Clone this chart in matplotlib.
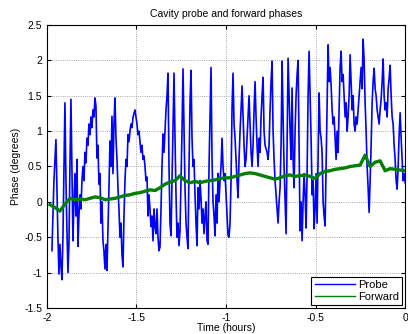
import matplotlib
matplotlib.use("Agg")
import matplotlib.pyplot as plt
import numpy as np

plt.rcParams['font.family'] = ['Liberation Sans', 'DejaVu Sans']
plt.rcParams['axes.unicode_minus'] = False

# probe phase (degrees), sampled evenly from t = -1.972 h to 0 h
probe = [
    -0.69, -0.2, 0.3, 0.6, 0.88, 0.2, -0.5, -1.02, -0.6, -0.9,
    -1.10, -0.5, 0.5, 1.40, 0.3, -0.4, -1.0, -0.6, 0.5, 1.45,
    0.4, -0.55, 0.0, 0.4, -0.2, 0.6, -0.63, -0.2, 0.1, -0.1,
    0.3, 0.5, 0.3, 0.7, 0.55, 0.9, 0.8, 1.1, 0.95, 1.2,
    1.05, 1.3, 1.2, 1.47, 1.35, 0.62, 0.8, 0.25, 0.4, -0.3,
    0.0, -0.55, -0.7, -0.95, -0.6, -0.97, -0.4, 0.2, 0.86, 0.5,
    1.21, 0.4, 1.1, 1.47, 0.9, 0.6, 0.2, -0.1, -0.5, -0.3,
    -0.75, -0.92, -0.2, 0.3, 0.6, 0.5, 0.95, 0.85, 1.0, 1.1,
    1.05, 1.19, 1.25, 1.30, 1.2, 1.1, 0.95, 1.0, 0.85, 0.7,
    0.8, 0.6, 0.65, 0.5, 0.3, 0.35, -0.2, 0.1, -0.1, -0.35,
    -0.2, -0.55, -0.1, -0.35, -0.45, -0.1, -0.5, -0.69, -0.64, -0.1,
    0.5, 0.96, 0.7, 1.0, 1.3, 1.5, 1.82, 0.5, -0.3, -0.48,
    0.3, 1.0, 1.82, 0.9, 0.1, -0.5, -0.3, -0.62, -0.4, 0.3,
    1.0, 1.88, 1.0, 0.2, -0.3, -0.5, -0.66, 0.5, 1.4, 1.86,
    0.9, 0.5, 0.6, 0.1, -0.3, -0.62, 0.2, -0.1, 0.3, 0.04,
    -0.3, -0.1, -0.45, -0.2, 0.0, -0.55, -0.6, 0.5, 1.2, 1.9,
    0.6, 0.0, -0.2, -0.48, 0.1, -0.3, 0.4, 0.0, 0.3, 0.5,
    0.9, 0.5, 0.3, 0.4, 0.1, -0.2, -0.48, -0.5, -0.3, 0.3,
    1.33, 1.82, 1.1, 0.9, 0.6, 0.3, 0.06, 0.6, 1.0, 1.3,
    1.64, 1.2, 0.8, 0.5, 0.6, 0.9, 1.2, 1.5, 1.1, 0.7,
    0.5, 0.8, 1.3, 1.70, 1.2, 0.8, 0.5, 0.9, 0.7, 1.2,
    1.5, 1.76, 1.0, 0.8, 0.75, 0.7, 0.6, 0.8, 1.3, 1.7,
    1.99, 1.0, 0.6, 0.3, 0.1, -0.1, -0.3, 0.0, 0.2, 0.8,
    1.99, 1.2, 0.5, 0.0, -0.45, 0.8, 2.03, 1.5, 1.0, 0.6,
    1.61, 0.6, 0.2, 1.0, 1.5, 1.8, 2.0, 0.8, -0.41, 0.0,
    -0.55, 0.0, 0.4, 0.1, -0.37, 0.4, 1.5, 2.13, 1.5, 0.9,
    0.1, 0.3, -0.38, -0.1, 0.4, -0.3, 0.6, 1.54, 1.0, 0.9,
    0.7, 0.0, -0.2, -0.34, 0.5, 1.3, 2.22, 1.7, 1.9, 1.65,
    1.3, 1.1, 1.2, 0.9, 0.6, 1.0, 0.7, 1.3, 1.9, 2.13,
    1.7, 1.8, 1.5, 1.2, 1.4, 1.0, 1.2, 1.5, 2.08, 1.7,
    1.3, 1.5, 1.1, 1.0, 1.2, 1.1, 1.3, 1.5, 1.7, 1.9,
    1.6, 2.3, 2.0, 1.4, 1.0, 0.5, 0.2, -0.15, 0.3, 0.8,
    1.4, 1.7, 1.89, 1.6, 1.5, 1.3, 1.2, 1.1, 1.3, 1.45,
    1.7, 2.02, 1.5, 1.3, 1.4, 1.2, 1.6, 1.75, 1.93, 1.5,
    1.2, 1.1, 0.8, 0.6, 0.3, 0.18, 0.5, 0.95, 1.26, 0.9,
    0.6, 0.3, 0.4, 0.27,
]

# forward phase (degrees), sampled evenly from t = -1.983 h to 0 h
forward = [
    -0.04, -0.08, -0.13, -0.03, 0.05, 0.03, 0.04, 0.03, 0.05, 0.07,
    0.06, 0.03, 0.04, 0.05, 0.07, 0.09, 0.10, 0.12, 0.13, 0.15,
    0.17, 0.16, 0.20, 0.25, 0.28, 0.30, 0.37, 0.30, 0.27, 0.29,
    0.27, 0.29, 0.30, 0.31, 0.33, 0.34, 0.34, 0.36, 0.38, 0.40,
    0.41, 0.40, 0.38, 0.36, 0.34, 0.32, 0.34, 0.37, 0.38, 0.36,
    0.37, 0.38, 0.36, 0.33, 0.40, 0.43, 0.44, 0.46, 0.47, 0.48,
    0.50, 0.51, 0.52, 0.66, 0.50, 0.56, 0.58, 0.44, 0.47, 0.46,
    0.45, 0.44,
]

t_probe = np.linspace(-1.972, 0, len(probe))
t_forward = np.linspace(-1.983, 0, len(forward))

fig = plt.figure(figsize=(4.08, 3.34), dpi=100)
ax = fig.add_axes([0.115, 0.078, 0.878, 0.847])

ax.plot(t_probe, probe, color=(0, 0, 1), linewidth=1.2, label="Probe")
ax.plot(t_forward, forward, color=(0, 0.5, 0), linewidth=2.4, label="Forward")

ax.set_xlim(-2, 0)
ax.set_ylim(-1.5, 2.5)
ax.set_xticks([-2, -1.5, -1, -0.5, 0])
ax.set_xticklabels(["-2", "-1.5", "-1", "-0.5", "0"])
ax.set_yticks([-1.5, -1, -0.5, 0, 0.5, 1, 1.5, 2, 2.5])
ax.set_yticklabels(["-1.5", "-1", "-0.5", "0", "0.5", "1", "1.5", "2", "2.5"])
ax.tick_params(direction="in", top=True, right=True, labelsize=7.5, length=3)
ax.grid(True, linestyle=":", color="0.55", linewidth=0.6)
for s in ax.spines.values():
    s.set_linewidth(0.8)

ax.set_title("Cavity probe and forward phases", fontsize=7.5, pad=6)
ax.set_xlabel("Time (hours)", fontsize=7.5, labelpad=0)
ax.set_ylabel("Phase (degrees)", fontsize=7.5, labelpad=2)

leg = ax.legend(loc="lower right", fontsize=8, fancybox=False, framealpha=1,
                edgecolor="black", borderaxespad=0.25, handlelength=3.6,
                borderpad=0.3, labelspacing=0.15, handletextpad=0.3)
leg.get_frame().set_linewidth(0.8)
for line in leg.get_lines():
    line.set_linewidth(1.0)

fig.savefig("out.png", dpi=100)
